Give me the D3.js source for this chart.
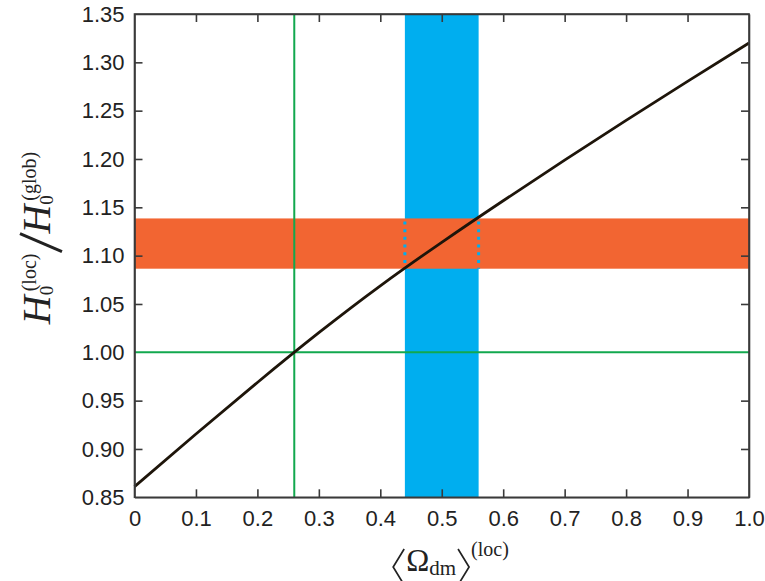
<!DOCTYPE html>
<html>
<head>
<meta charset="utf-8">
<script src="https://cdn.jsdelivr.net/npm/d3@7"></script>
<style>
  html, body { margin: 0; padding: 0; background: #fff; }
  svg { display: block; }
</style>
</head>
<body>
<svg id="chart" width="765" height="581"></svg>
<script>
// Local-to-global Hubble constant ratio versus local dark-matter density
const omegaLoc = [0, 0.1, 0.2, 0.3, 0.4, 0.5, 0.6, 0.7, 0.8, 0.9, 1.0];
const h0Ratio  = [0.861, 0.9155, 0.9688, 1.0203, 1.0688, 1.1138, 1.1568, 1.1988, 1.2400, 1.2803, 1.3200];

// Measured local Omega range (vertical band) and H0 ratio range (horizontal band)
const omegaBand = [0.44, 0.56];
const ratioBand = [1.0865, 1.1385];

// Reference lines
const omegaRef = 0.26;
const ratioRef = 1.00;

const xTicks = [0, 0.1, 0.2, 0.3, 0.4, 0.5, 0.6, 0.7, 0.8, 0.9, 1.0];
const xTickLabels = ["0", "0.1", "0.2", "0.3", "0.4", "0.5", "0.6", "0.7", "0.8", "0.9", "1.0"];
const yTicks = [0.85, 0.90, 0.95, 1.00, 1.05, 1.10, 1.15, 1.20, 1.25, 1.30, 1.35];
const yTickLabels = ["0.85", "0.90", "0.95", "1.00", "1.05", "1.10", "1.15", "1.20", "1.25", "1.30", "1.35"];

const svg = d3.select("#chart");
const L = 134.5, R = 749, T = 14, B = 497.3;

const x = d3.scaleLinear().domain([0, 1]).range([L, R]);
const y = d3.scaleLinear().domain([0.85, 1.35]).range([B, T]);

const ORANGE = "#f26532", BLUE = "#00aeef", GREEN = "#12a84e", LINE = "#1e150a", AXIS = "#3a3a3a";

// vertical band
svg.append("rect")
  .attr("x", x(omegaBand[0])).attr("y", T)
  .attr("width", x(omegaBand[1]) - x(omegaBand[0])).attr("height", B - T)
  .attr("fill", BLUE);

// horizontal band
svg.append("rect")
  .attr("x", L).attr("y", y(ratioBand[1]))
  .attr("width", R - L).attr("height", y(ratioBand[0]) - y(ratioBand[1]))
  .attr("fill", ORANGE);

// dotted edges of the vertical band across the horizontal one
omegaBand.forEach(v => {
  svg.append("line")
    .attr("x1", x(v)).attr("x2", x(v))
    .attr("y1", y(ratioBand[1]) + 3).attr("y2", y(ratioBand[0]))
    .attr("stroke", BLUE).attr("stroke-width", 3)
    .attr("stroke-dasharray", "3,4.7");
});

// reference lines
svg.append("line")
  .attr("x1", L).attr("x2", R).attr("y1", y(ratioRef)).attr("y2", y(ratioRef))
  .attr("stroke", GREEN).attr("stroke-width", 2);
svg.append("line")
  .attr("x1", x(omegaRef)).attr("x2", x(omegaRef)).attr("y1", T).attr("y2", B)
  .attr("stroke", GREEN).attr("stroke-width", 2);

// curve
const pts = omegaLoc.map((o, i) => [o, h0Ratio[i]]);
svg.append("path")
  .datum(pts)
  .attr("d", d3.line().x(d => x(d[0])).y(d => y(d[1])).curve(d3.curveNatural))
  .attr("fill", "none").attr("stroke", LINE).attr("stroke-width", 2.8);

// axes with inward ticks on all four sides
const tickLen = 8;
const fmtX = (d, i) => xTickLabels[i];
const fmtY = (d, i) => yTickLabels[i];

const styleAxis = g => {
  g.selectAll("path.domain").attr("stroke", AXIS).attr("stroke-width", 1.6);
  g.selectAll(".tick line").attr("stroke", AXIS).attr("stroke-width", 1.6);
  g.selectAll(".tick text").attr("fill", "#222")
    .style("font-family", "'Liberation Sans', Arial, sans-serif").style("font-size", "22px");
};

svg.append("g").attr("transform", `translate(0,${B})`)
  .call(d3.axisBottom(x).tickValues(xTicks).tickFormat(fmtX).tickSizeInner(-tickLen).tickSizeOuter(0).tickPadding(13))
  .call(styleAxis);
svg.append("g").attr("transform", `translate(0,${T})`)
  .call(d3.axisTop(x).tickValues(xTicks).tickFormat("").tickSizeInner(-tickLen).tickSizeOuter(0))
  .call(styleAxis);
svg.append("g").attr("transform", `translate(${L},0)`)
  .call(d3.axisLeft(y).tickValues(yTicks).tickFormat(fmtY).tickSizeInner(-tickLen).tickSizeOuter(0).tickPadding(10))
  .call(styleAxis);
svg.append("g").attr("transform", `translate(${R},0)`)
  .call(d3.axisRight(y).tickValues(yTicks).tickFormat("").tickSizeInner(-tickLen).tickSizeOuter(0))
  .call(styleAxis);

// hide end ticks that sit on the frame corners
svg.selectAll(".tick").filter(d => d === 0 || d === 1 || d === 0.85 || d === 1.35)
  .select("line").attr("stroke-opacity", 0);

// frame
svg.append("rect").attr("x", L).attr("y", T).attr("width", R - L).attr("height", B - T)
  .attr("fill", "none").attr("stroke", AXIS).attr("stroke-width", 1.6);

const SERIF = "'Liberation Serif', 'Times New Roman', serif";

function piece(g, txt, px, py, size, italic) {
  const t = g.append("text").attr("x", px).attr("y", py).text(txt)
    .style("font-size", size + "px").style("font-style", italic ? "italic" : "normal");
  return t.node().getComputedTextLength();
}

// y-axis title: H0^(loc) / H0^(glob), rotated
const yt = svg.append("g").attr("transform", "translate(50,238) rotate(-90)")
  .style("font-family", SERIF).attr("fill", "#222");
const inner = yt.append("g");
let cy = 0;
cy += piece(inner, "H", cy, 0, 40, true);
{
  const s0 = piece(inner, "0", cy, 3, 19, false);
  const s1 = piece(inner, "(loc)", cy + 4, -14, 20, false) + 4;
  cy += Math.max(s0, s1);
}
inner.append("line").attr("x1", cy + 2).attr("y1", 12).attr("x2", cy + 20).attr("y2", -30)
  .attr("stroke", "#222").attr("stroke-width", 3);
cy += 20;
cy += piece(inner, "H", cy, 0, 40, true);
{
  const s2 = piece(inner, "0", cy, 3, 19, false);
  const s3 = piece(inner, "(glob)", cy + 4, -14, 20, false) + 4;
  cy += Math.max(s2, s3);
}
inner.attr("transform", `translate(${-cy / 2},0)`);

// x-axis title: <Omega_dm>^(loc)
const xt = svg.append("g").style("font-family", SERIF).attr("fill", "#222");
const xinner = xt.append("g");
let cx = 0;
xinner.append("path").attr("d", `M${cx + 11},-22 L${cx},-4 L${cx + 11},14`)
  .attr("fill", "none").attr("stroke", "#222").attr("stroke-width", 1.7);
cx += 13;
cx += piece(xinner, "Ω", cx, 0, 31, false);
cx += piece(xinner, "dm", cx, 4, 21, false) + 2;
xinner.append("path").attr("d", `M${cx},-22 L${cx + 11},-4 L${cx},14`)
  .attr("fill", "none").attr("stroke", "#222").attr("stroke-width", 1.7);
cx += 13;
cx += piece(xinner, "(loc)", cx, -15, 20, false);
xinner.attr("transform", `translate(${451 - cx / 2},571)`);
</script>
</body>
</html>
